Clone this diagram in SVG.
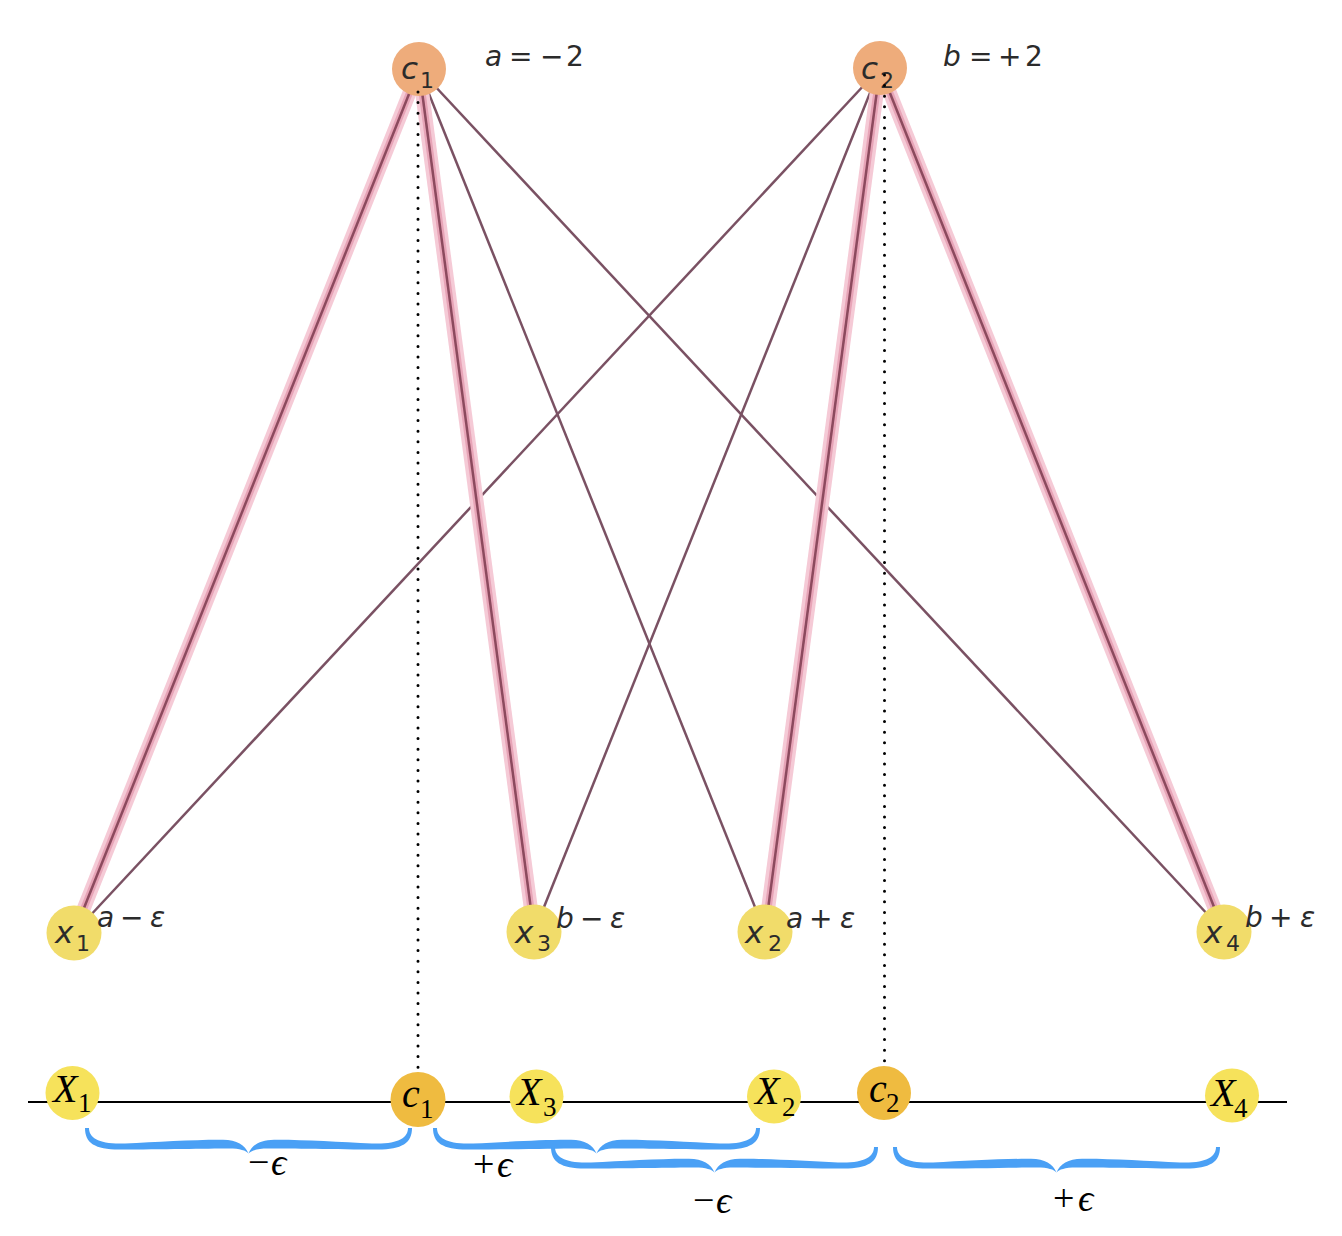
<svg xmlns="http://www.w3.org/2000/svg" xmlns:xlink="http://www.w3.org/1999/xlink" width="1342" height="1236" viewBox="0 0 1342 1236">
<defs>
<style>
.thin{stroke:#7a5163;stroke-width:2.5;fill:none}
.halo1{stroke:#f5cad6;stroke-width:14;fill:none}
.halo2{stroke:#e7a4b7;stroke-width:7;fill:none}
.core{stroke:#8c4a5e;stroke-width:2.5;fill:none}
.dots{stroke:#000;stroke-width:3;stroke-linecap:round;stroke-dasharray:0 10.6;fill:none}
.axis{stroke:#000;stroke-width:2}
.cTop{fill:#eeac7b}
.xTop{fill:#f1dc6a}
.xBot{fill:#f6e25b}
.cBot{fill:#efbb40}
.ts{font-family:"DejaVu Sans",sans-serif;fill:#2b2b2b}
.ti{font-style:italic}
.tb{font-family:"Liberation Serif","DejaVu Serif",serif;fill:#000}
.brace{fill:#4aa0f5}
</style>
<path id="bh" d="M -2,0 C -2,15 8,21.5 32,21.5 C 75,21.5 120,20.5 142,20.5 C 153,20.5 159,22.5 161.5,25.5 C 158,17 150,12 136,11.8 C 110,11.5 70,14 38,15.5 C 12,16.5 2,10 2,0 Z"/>
<g id="brace">
<use xlink:href="#bh"/>
<use xlink:href="#bh" transform="translate(323,0) scale(-1,1)"/>
</g>
</defs>
<rect width="1342" height="1236" fill="#fff"/>

<g id="connectors">
<line class="thin" x1="419" y1="69" x2="765" y2="932"/>
<line class="thin" x1="419" y1="69" x2="1224" y2="932"/>
<line class="thin" x1="880" y1="68" x2="74" y2="933"/>
<line class="thin" x1="880" y1="68" x2="534" y2="932"/>
<g>
<line class="halo1" x1="419" y1="69" x2="74" y2="933"/>
<line class="halo2" x1="419" y1="69" x2="74" y2="933"/>
<line class="core" x1="419" y1="69" x2="74" y2="933"/>
</g>
<g>
<line class="halo1" x1="419" y1="69" x2="534" y2="932"/>
<line class="halo2" x1="419" y1="69" x2="534" y2="932"/>
<line class="core" x1="419" y1="69" x2="534" y2="932"/>
</g>
<g>
<line class="halo1" x1="880" y1="68" x2="765" y2="932"/>
<line class="halo2" x1="880" y1="68" x2="765" y2="932"/>
<line class="core" x1="880" y1="68" x2="765" y2="932"/>
</g>
<g>
<line class="halo1" x1="880" y1="68" x2="1224" y2="932"/>
<line class="halo2" x1="880" y1="68" x2="1224" y2="932"/>
<line class="core" x1="880" y1="68" x2="1224" y2="932"/>
</g>
<line class="axis" x1="28" y1="1102" x2="1287" y2="1102"/>
</g>

<g id="top-c1">
<circle class="cTop" cx="419" cy="69" r="27"/>
<text class="ts" font-size="31"><tspan class="ti" x="401" y="79">c</tspan><tspan x="420" y="88" font-size="22">1</tspan></text>
<text class="ts" font-size="28" y="66"><tspan class="ti" x="485">a</tspan><tspan x="509">=</tspan><tspan x="540">−</tspan><tspan x="566">2</tspan></text>
</g>
<g id="top-c2">
<circle class="cTop" cx="880" cy="68" r="27"/>
<text class="ts" font-size="31"><tspan class="ti" x="861" y="79">c</tspan><tspan x="880" y="88" font-size="22">2</tspan></text>
<text class="ts" font-size="28" y="66"><tspan class="ti" x="943">b</tspan><tspan x="969">=</tspan><tspan x="998">+</tspan><tspan x="1025">2</tspan></text>
</g>
<g id="top-x1">
<circle class="xTop" cx="74" cy="933" r="27.5"/>
<text class="ts" font-size="31"><tspan class="ti" x="55" y="943">x</tspan><tspan x="76" y="951" font-size="22">1</tspan></text>
<text class="ts" font-size="28" y="927"><tspan class="ti" x="97">a</tspan><tspan x="120">−</tspan><tspan class="ti" x="150">ε</tspan></text>
</g>
<g id="top-x3">
<circle class="xTop" cx="534" cy="932" r="27.5"/>
<text class="ts" font-size="31"><tspan class="ti" x="515" y="943">x</tspan><tspan x="537" y="951" font-size="22">3</tspan></text>
<text class="ts" font-size="28" y="928"><tspan class="ti" x="556">b</tspan><tspan x="580">−</tspan><tspan class="ti" x="610">ε</tspan></text>
</g>
<g id="top-x2">
<circle class="xTop" cx="765" cy="932" r="27.5"/>
<text class="ts" font-size="31"><tspan class="ti" x="745" y="943">x</tspan><tspan x="768" y="951" font-size="22">2</tspan></text>
<text class="ts" font-size="28" y="928"><tspan class="ti" x="786">a</tspan><tspan x="809">+</tspan><tspan class="ti" x="840">ε</tspan></text>
</g>
<g id="top-x4">
<circle class="xTop" cx="1224" cy="932" r="27.5"/>
<text class="ts" font-size="31"><tspan class="ti" x="1204" y="943">x</tspan><tspan x="1226" y="951" font-size="22">4</tspan></text>
<text class="ts" font-size="28" y="927"><tspan class="ti" x="1245">b</tspan><tspan x="1269">+</tspan><tspan class="ti" x="1300">ε</tspan></text>
</g>

<g id="bot-X1">
<circle class="xBot" cx="72.5" cy="1093" r="27"/>
<text class="tb" font-size="40"><tspan class="ti" x="53" y="1102">X</tspan><tspan x="78" y="1112" font-size="27">1</tspan></text>
</g>
<g id="bot-c1">
<circle class="cBot" cx="418" cy="1099.5" r="27.5"/>
<text class="tb" font-size="40"><tspan class="ti" x="402" y="1107">c</tspan><tspan x="420" y="1118" font-size="27">1</tspan></text>
</g>
<g id="bot-X3">
<circle class="xBot" cx="536.5" cy="1096.5" r="27"/>
<text class="tb" font-size="40"><tspan class="ti" x="517" y="1105">X</tspan><tspan x="543" y="1116" font-size="27">3</tspan></text>
</g>
<g id="bot-X2">
<circle class="xBot" cx="774" cy="1096.5" r="27"/>
<text class="tb" font-size="40"><tspan class="ti" x="755" y="1104">X</tspan><tspan x="782" y="1116" font-size="27">2</tspan></text>
</g>
<g id="bot-c2">
<circle class="cBot" cx="884" cy="1093" r="27"/>
<text class="tb" font-size="40"><tspan class="ti" x="869" y="1102">c</tspan><tspan x="886" y="1112" font-size="27">2</tspan></text>
</g>
<g id="bot-X4">
<circle class="xBot" cx="1232" cy="1095.5" r="27"/>
<text class="tb" font-size="40"><tspan class="ti" x="1211" y="1106">X</tspan><tspan x="1234" y="1117" font-size="27">4</tspan></text>
</g>

<g id="projections">
<line class="dots" x1="418" y1="92" x2="418" y2="1071"/>
<line class="dots" x1="884.5" y1="75" x2="884.5" y2="1065"/>
</g>

<g id="braces">
<use xlink:href="#brace" class="brace" transform="translate(87,1128)"/>
<use xlink:href="#brace" class="brace" transform="translate(435,1128)"/>
<use xlink:href="#brace" class="brace" transform="translate(553,1147)"/>
<use xlink:href="#brace" class="brace" transform="translate(895,1147)"/>
<text class="tb" font-size="38" y="1175"><tspan x="248">−</tspan><tspan class="ti" x="271">ϵ</tspan></text>
<text class="tb" font-size="38" y="1177"><tspan x="473">+</tspan><tspan class="ti" x="497">ϵ</tspan></text>
<text class="tb" font-size="38" y="1213"><tspan x="693">−</tspan><tspan class="ti" x="716">ϵ</tspan></text>
<text class="tb" font-size="38" y="1211"><tspan x="1053">+</tspan><tspan class="ti" x="1078">ϵ</tspan></text>
</g>
</svg>
